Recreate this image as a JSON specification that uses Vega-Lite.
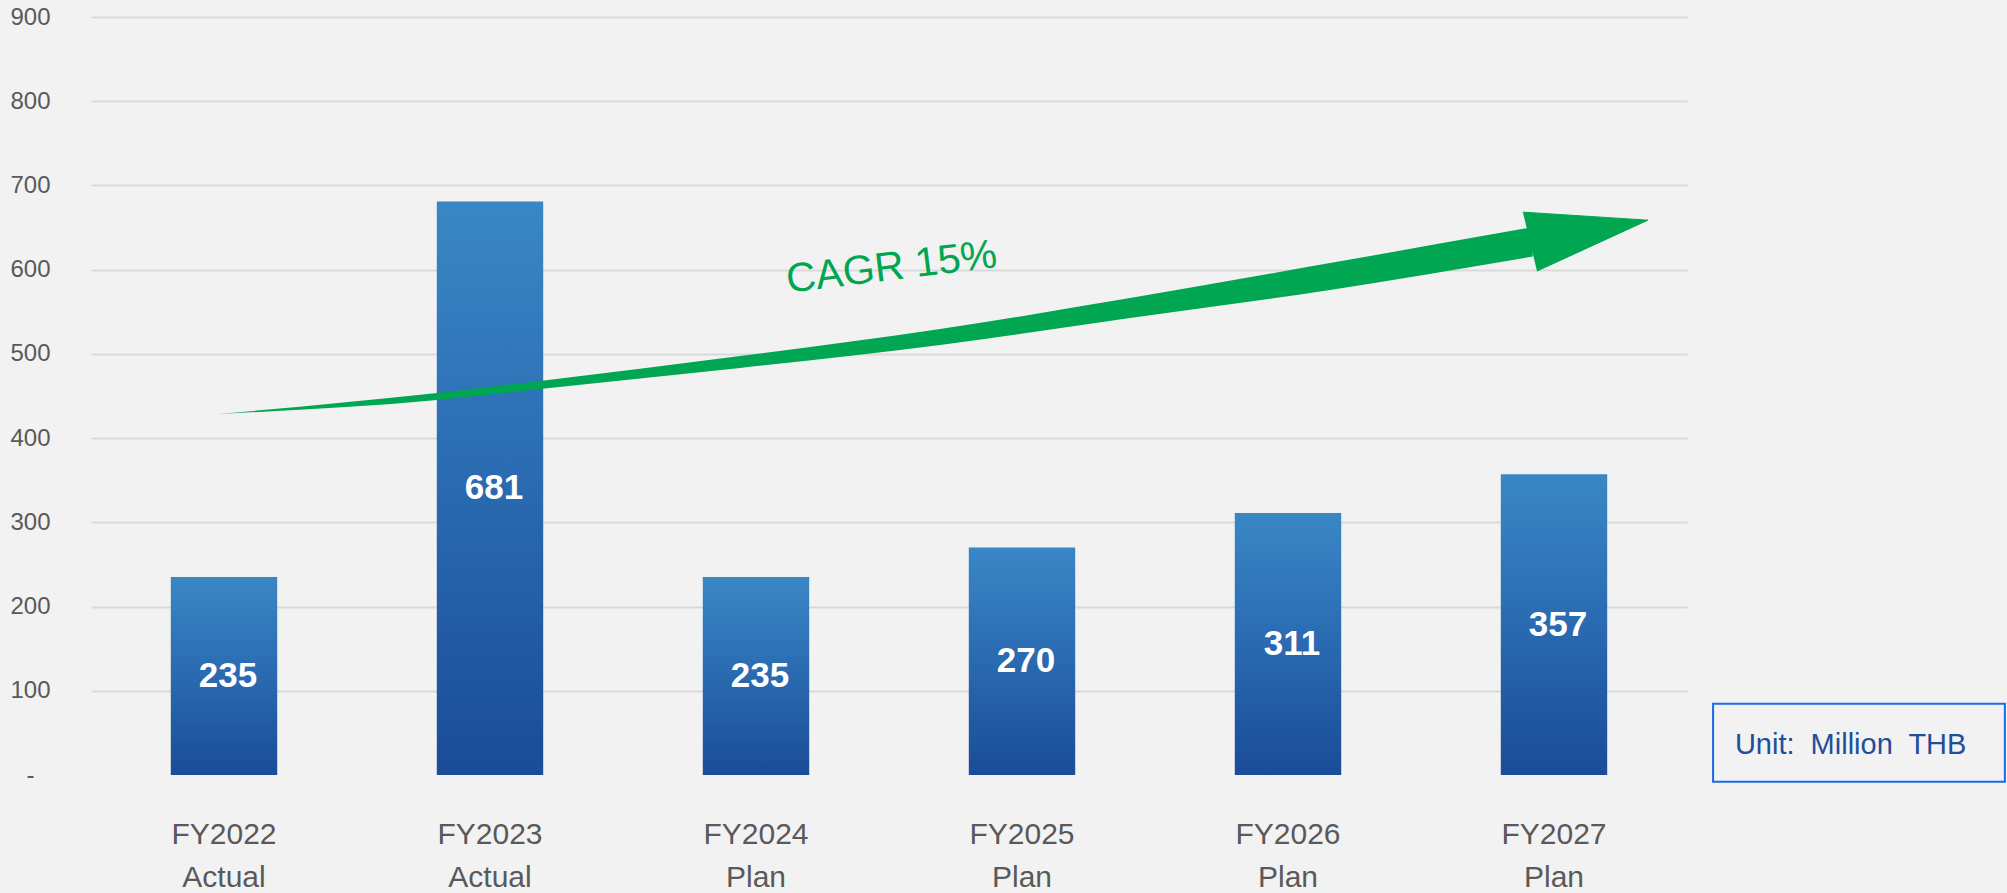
{
  "$schema": "https://vega.github.io/schema/vega-lite/v6.json",
  "width": 1596,
  "height": 758,
  "autosize": "none",
  "padding": {"left": 91, "top": 17, "right": 320, "bottom": 118},
  "background": "#F2F2F2",
  "config": {"view": {"stroke": null}, "font": "Liberation Sans"},
  "datasets": {
    "bars": [
      {"period": "FY2022 Actual", "value": 235},
      {"period": "FY2023 Actual", "value": 681},
      {"period": "FY2024 Plan", "value": 235},
      {"period": "FY2025 Plan", "value": 270},
      {"period": "FY2026 Plan", "value": 311},
      {"period": "FY2027 Plan", "value": 357}
    ],
    "shaft": [
      {"u": 0.477, "top": 428.6, "bottom": 428.6},
      {"u": 1.301, "top": 453.5, "bottom": 445.3},
      {"u": 1.688, "top": 467.8, "bottom": 458.4},
      {"u": 2.44, "top": 497.4, "bottom": 483.3},
      {"u": 3.192, "top": 529.5, "bottom": 510.6},
      {"u": 3.906, "top": 566.3, "bottom": 542.6},
      {"u": 4.658, "top": 607.8, "bottom": 575.8},
      {"u": 5.42, "top": 650.5, "bottom": 615.5}
    ],
    "head": [
      {"i": 1, "u": 5.383, "v": 668.3},
      {"i": 2, "u": 5.853, "v": 658.8},
      {"i": 3, "u": 5.436, "v": 598.3}
    ]
  },
  "layer": [
    {
      "data": {"name": "bars"},
      "mark": {
        "type": "bar",
        "fill": {
          "gradient": "linear", "x1": 0, "y1": 0, "x2": 0, "y2": 1,
          "stops": [
            {"offset": 0, "color": "#3A87C5"},
            {"offset": 0.45, "color": "#2B6DB3"},
            {"offset": 1, "color": "#1A4C98"}
          ]
        }
      },
      "encoding": {
        "x": {
          "field": "period", "type": "nominal", "sort": null,
          "scale": {"paddingInner": 0.6, "paddingOuter": 0.3},
          "axis": {
            "title": null, "domain": false, "ticks": false, "tickSize": 0,
            "labelAngle": 0, "labelFontSize": 30, "labelColor": "#595959",
            "labelLineHeight": 43, "labelPadding": 44, "labelBaseline": "top",
            "labelExpr": "split(datum.label, ' ')"
          }
        },
        "y": {
          "field": "value", "type": "quantitative",
          "scale": {"domain": [0, 900], "nice": false},
          "axis": {
            "title": null, "values": [0, 100, 200, 300, 400, 500, 600, 700, 800, 900],
            "domain": false, "ticks": false, "tickSize": 0,
            "grid": true, "gridWidth": 2,
            "gridColor": {"condition": {"test": "datum.value === 0", "value": "transparent"}, "value": "#D9D9D9"},
            "labelAlign": "center", "labelPadding": 61, "labelFontSize": 24, "labelColor": "#595959",
            "labelExpr": "datum.value === 0 ? '-' : datum.label"
          }
        }
      }
    },
    {
      "data": {"name": "bars"},
      "mark": {"type": "text", "color": "#FFFFFF", "fontWeight": "bold", "fontSize": 35, "baseline": "middle", "dx": 4},
      "encoding": {
        "x": {"field": "period", "type": "nominal", "sort": null, "scale": {"paddingInner": 0.6, "paddingOuter": 0.3}, "axis": null},
        "y": {"field": "value", "type": "quantitative", "scale": {"domain": [0, 1800], "nice": false}, "axis": null},
        "text": {"field": "value", "type": "quantitative"}
      }
    },
    {
      "data": {"name": "shaft"},
      "mark": {"type": "area", "color": "#00A651", "interpolate": "monotone"},
      "encoding": {
        "x": {"field": "u", "type": "quantitative", "scale": {"domain": [0, 6], "nice": false, "zero": false}, "axis": null},
        "y": {"field": "top", "type": "quantitative", "scale": {"domain": [0, 900], "nice": false}, "axis": null},
        "y2": {"field": "bottom"}
      }
    },
    {
      "data": {"name": "head"},
      "mark": {"type": "line", "fill": "#00A651", "stroke": "#00A651", "strokeWidth": 1, "interpolate": "linear"},
      "encoding": {
        "x": {"field": "u", "type": "quantitative", "scale": {"domain": [0, 6], "nice": false, "zero": false}, "axis": null},
        "y": {"field": "v", "type": "quantitative", "scale": {"domain": [0, 900], "nice": false}, "axis": null},
        "order": {"field": "i", "type": "quantitative"}
      }
    },
    {
      "data": {"values": [{}]},
      "mark": {"type": "text", "color": "#00A651", "fontSize": 41, "angle": -7, "align": "center", "baseline": "middle"},
      "encoding": {
        "x": {"datum": 3.01, "type": "quantitative", "scale": {"domain": [0, 6], "nice": false, "zero": false}, "axis": null},
        "y": {"datum": 602, "type": "quantitative", "scale": {"domain": [0, 900], "nice": false}, "axis": null},
        "text": {"value": "CAGR 15%"}
      }
    },
    {
      "data": {"values": [{}]},
      "mark": {"type": "rect", "fill": null, "fillOpacity": 0, "stroke": "#1A6AE6", "strokeWidth": 2},
      "encoding": {
        "x": {"datum": 6.098, "type": "quantitative", "scale": {"domain": [0, 6], "nice": false, "zero": false}, "axis": null},
        "x2": {"datum": 7.195},
        "y": {"datum": 84.6, "type": "quantitative", "scale": {"domain": [0, 900], "nice": false}, "axis": null},
        "y2": {"datum": -7.9}
      }
    },
    {
      "data": {"values": [{}]},
      "mark": {"type": "text", "color": "#1F4E9A", "fontSize": 29, "align": "left", "baseline": "alphabetic"},
      "encoding": {
        "x": {"datum": 6.18, "type": "quantitative", "scale": {"domain": [0, 6], "nice": false, "zero": false}, "axis": null},
        "y": {"datum": 25.3, "type": "quantitative", "scale": {"domain": [0, 900], "nice": false}, "axis": null},
        "text": {"value": "Unit:\u00a0 Million\u00a0 THB"}
      }
    }
  ],
  "resolve": {"scale": {"x": "independent", "y": "independent"}}
}
